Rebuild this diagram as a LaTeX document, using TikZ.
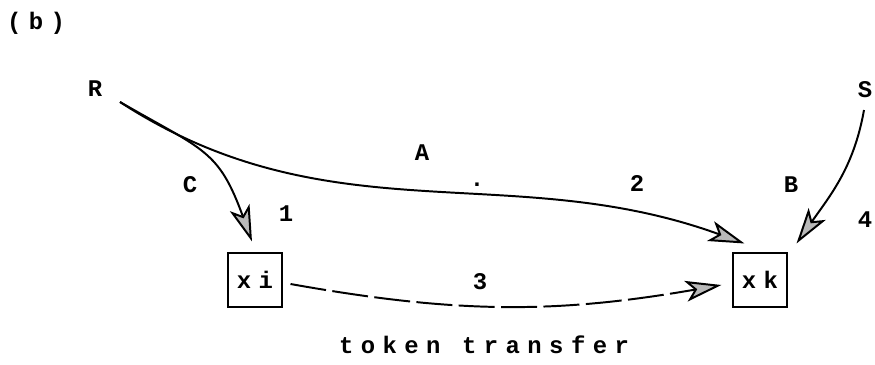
\documentclass[tikz,border=0pt]{standalone}
\usepackage{fontspec}
\newfontfamily\tw[LetterSpace=31]{Liberation Mono}
\usetikzlibrary{arrows.meta}

\begin{document}
\begin{tikzpicture}[x=0.025cm,y=0.025cm,every node/.style={font=\tw\bfseries\fontsize{17}{19}\selectfont},
  box/.style={draw,line width=1.3pt,minimum size=1.33cm,inner sep=0pt},
  tip/.style={-{Stealth[length=9mm,width=5.2mm,inset=2.2mm,fill=gray!55]},line width=1.4pt}]
  \useasboundingbox (0,0) rectangle (875,-364);
  \node(lbl) at(36,-23){(b)};
  \node(R) at(95,-89){R};
  \node(S) at(865,-90){S};
  \node(xi)[box] at(255,-280){xi};
  \node(xk)[box] at(760,-280){xk};
  \coordinate(Rout) at(120,-102);
  \coordinate(Sout) at(864,-110);
  % edge labels
  \node(C) at(190,-185){C};
  \node(A) at(422,-153){A};
  \node(dot) at(477,-185){.};
  \node(n1) at(286,-214){1};
  \node(n2) at(637,-183){2};
  \node(B) at(791,-185){B};
  \node(n3) at(480,-282){3};
  \node(n4) at(865,-220){4};
  \node(tt) at(484,-345){token transfer};
  \draw[tip](Rout) to[out=-30,in=110,looseness=1.3] ([shift={(-3,11)}]xi.north);
  \draw[tip](Rout) to[out=-33,in=160] ([shift={(12,9)}]xk.north west);
  \draw[tip](Sout) to[out=-100,in=55] ([shift={(9,9)}]xk.north east);
  \draw[tip,dash pattern=on 9mm off 1.6mm]([shift={(8,-4)}]xi.east) to[bend right=10] ([shift={(-11,-5)}]xk.west);
\end{tikzpicture}
\end{document}
